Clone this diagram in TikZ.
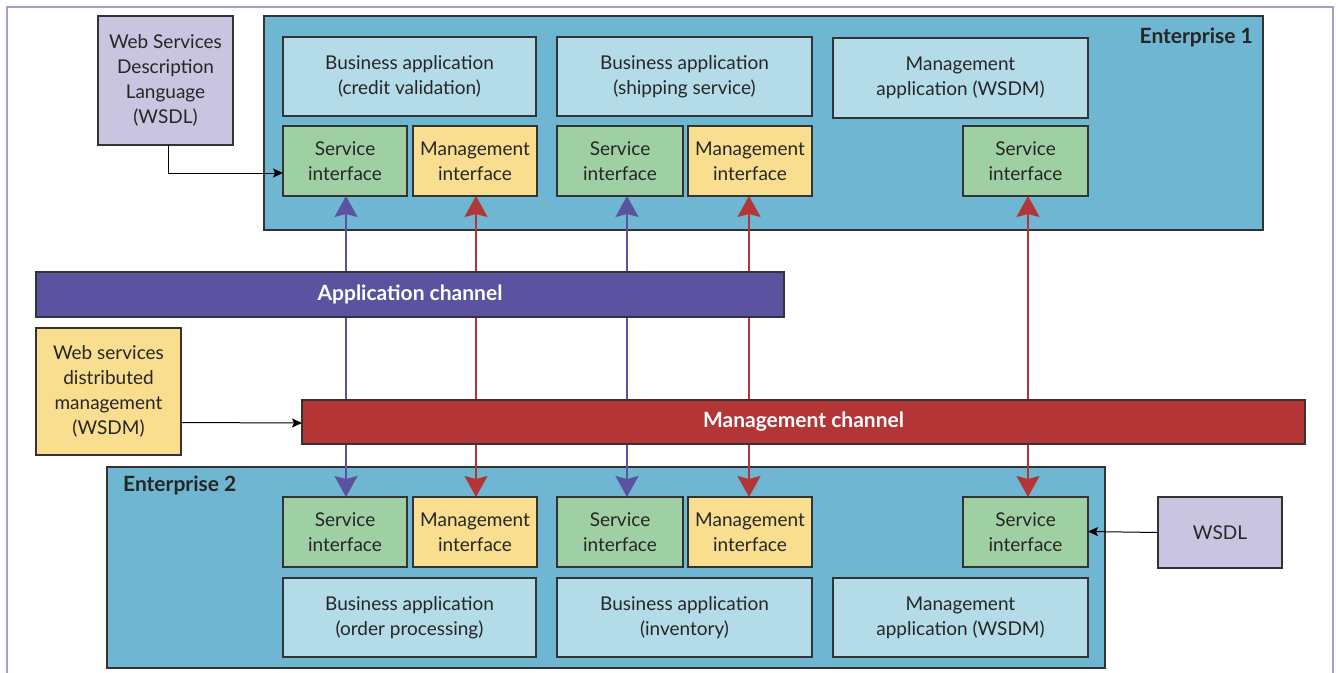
\documentclass[tikz,border=0pt]{standalone}
\usepackage{fontspec}
\setmainfont{Lato}
\usetikzlibrary{arrows.meta}
\definecolor{entc}{HTML}{6FB6D2}
\definecolor{bac}{HTML}{B4DCE8}
\definecolor{sic}{HTML}{9FD0A3}
\definecolor{mic}{HTML}{F9DE8F}
\definecolor{docc}{HTML}{C9C4DF}
\definecolor{appc}{HTML}{5B52A0}
\definecolor{mgmc}{HTML}{B33535}
\definecolor{framec}{HTML}{A59DCF}
\definecolor{edgec}{HTML}{333333}
\newcommand\bx[7]{\node[#6, minimum width={(#4-#2)*1pt}, minimum height={(#5-#3)*1pt}] (#1) at ({(#2+#4)/2},{(#3+#5)/2}) {#7};}
\begin{document}
\begin{tikzpicture}[x=1pt,y=-1pt,
  font=\fontsize{19}{25}\selectfont,
  box/.style={draw=edgec, line width=1.2pt, inner sep=0pt, outer sep=0pt, align=center, text=black!85},
  ent/.style={box, fill=entc},
  ba/.style={box, fill=bac},
  si/.style={box, fill=sic},
  mi/.style={box, fill=mic},
  doc/.style={box, fill=docc},
  chan/.style={box, text=white, font=\fontsize{21}{25}\selectfont\bfseries},
  apparrow/.style={draw=appc, line width=1.6pt, {Stealth[width=23pt,length=21pt,inset=3pt]}-{Stealth[width=23pt,length=21pt,inset=3pt]}},
  mgmarrow/.style={draw=mgmc, line width=1.6pt, {Stealth[width=23pt,length=21pt,inset=3pt]}-{Stealth[width=23pt,length=21pt,inset=3pt]}},
  link/.style={draw=black, line width=1pt, -{Stealth[width=9pt,length=10pt,inset=2pt]}},
  title/.style={font=\fontsize{21}{25}\selectfont\bfseries, text=black!85, inner sep=0pt}
]
\useasboundingbox (0,0) rectangle (1338,672);
\draw[framec, line width=1.5pt] (7,680) -- (7,7) -- (1333,7) -- (1333,680);
% Enterprise boxes
\bx{ent1}{264}{16}{1263}{230}{ent}{}
\bx{ent2}{107}{467}{1105}{668}{ent}{}
\node[title, anchor=north east] (t1) at (1253,28) {Enterprise 1};
\node[title, anchor=north west] (t2) at (123,476) {Enterprise 2};
% Enterprise 1 contents
\bx{ba1}{283}{37}{536}{116}{ba}{Business application\\(credit validation)}
\bx{ba2}{557}{37}{812}{116}{ba}{Business application\\(shipping service)}
\bx{ma1}{833}{38}{1088}{118}{ba}{Management\\application (WSDM)}
\bx{si1}{283}{126}{407}{196}{si}{Service\\interface}
\bx{mi1}{413}{126}{537}{196}{mi}{Management\\interface}
\bx{si2}{557}{126}{683}{196}{si}{Service\\interface}
\bx{mi2}{688}{126}{812}{196}{mi}{Management\\interface}
\bx{si3}{963}{126}{1088}{196}{si}{Service\\interface}
% Enterprise 2 contents
\bx{sib1}{283}{497}{407}{567}{si}{Service\\interface}
\bx{mib1}{413}{497}{537}{567}{mi}{Management\\interface}
\bx{sib2}{557}{497}{683}{567}{si}{Service\\interface}
\bx{mib2}{688}{497}{812}{567}{mi}{Management\\interface}
\bx{sib3}{963}{497}{1088}{567}{si}{Service\\interface}
\bx{bab1}{283}{578}{536}{657}{ba}{Business application\\(order processing)}
\bx{bab2}{557}{578}{812}{657}{ba}{Business application\\(inventory)}
\bx{mab}{833}{578}{1088}{657}{ba}{Management\\application (WSDM)}
% side documents
\bx{wsdl1}{98}{16}{233}{145}{doc}{Web Services\\Description\\Language\\(WSDL)}
\bx{wsdm}{36}{328}{181}{455}{mi}{Web services\\distributed\\management\\(WSDM)}
\bx{wsdl2}{1158}{497}{1282}{568}{doc}{WSDL}
% vertical arrows
\draw[apparrow] ([xshift=1pt]si1.south) -- ([xshift=1pt]sib1.north);
\draw[mgmarrow] ([xshift=1pt]mi1.south) -- ([xshift=1pt]mib1.north);
\draw[apparrow] ([xshift=7pt]si2.south) -- ([xshift=7pt]sib2.north);
\draw[mgmarrow] ([xshift=-1pt]mi2.south) -- ([xshift=-1pt]mib2.north);
\draw[mgmarrow] ([xshift=2.5pt]si3.south) -- ([xshift=2.5pt]sib3.north);
% channels
\bx{appch}{36}{272}{784}{317}{chan, fill=appc}{Application channel}
\bx{mgmch}{302}{400}{1305}{444}{chan, fill=mgmc}{Management channel}
% links
\draw[link] ([xshift=2.5pt]wsdl1.south) |- ([yshift=-12pt]si1.west);
\draw[link] ([yshift=-31pt]wsdm.east) -- ([yshift=-1pt]mgmch.west);
\draw[link] (wsdl2.west) -- ([yshift=0.5pt]sib3.east);
\end{tikzpicture}
\end{document}
